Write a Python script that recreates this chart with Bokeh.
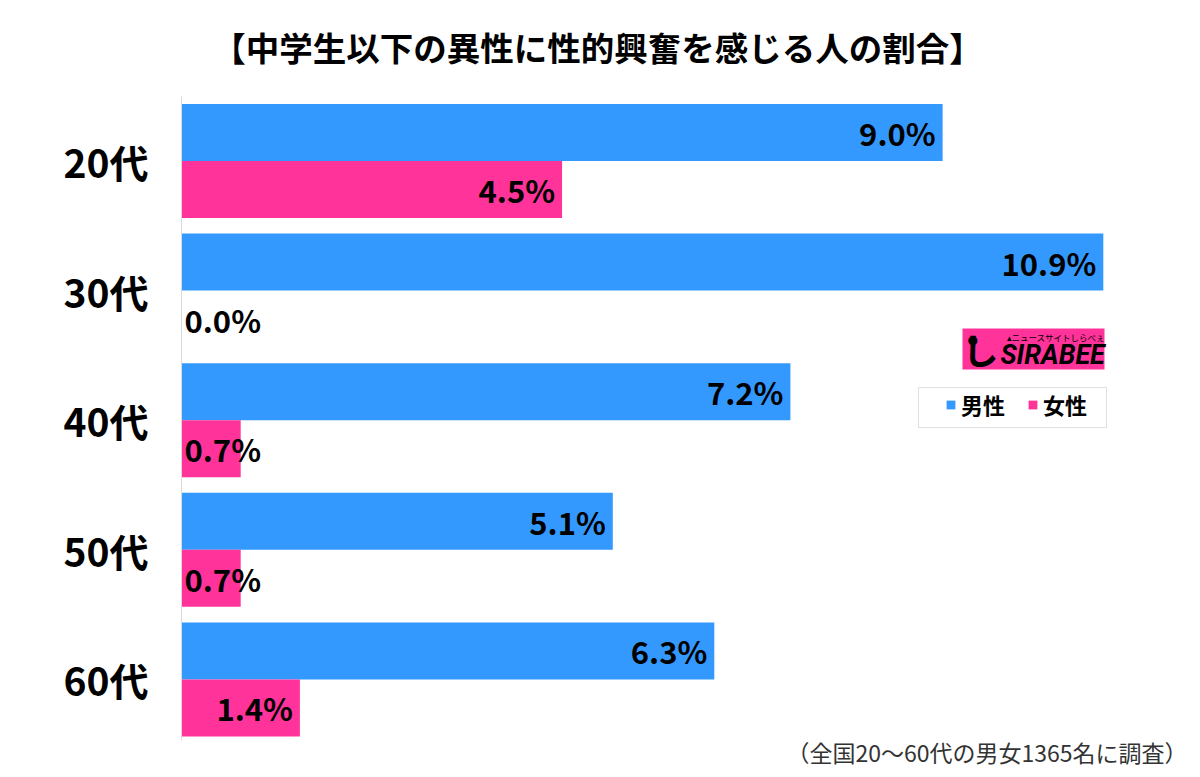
from bokeh.plotting import figure
from bokeh.models import (Range1d, FixedTicker, Label, Legend, LegendItem, ColumnDataSource,
                          BoxAnnotation)
from bokeh.embed import file_html
from bokeh.resources import INLINE

categories = ["20代", "30代", "40代", "50代", "60代"]
male = [9.0, 10.9, 7.2, 5.1, 6.3]
female = [4.5, 0.0, 0.7, 0.7, 1.4]
series_names = ["男性", "女性"]
title_text = "【中学生以下の異性に性的興奮を感じる人の割合】"
note_text = "（全国20～60代の男女1365名に調査）"

BLUE = "#3399ff"
PINK = "#ff3399"
JP = "Noto Sans CJK JP"

n = len(categories)
centers = [n - i for i in range(n)]
bh = 0.44

W, H = 1192, 769
LEFT = 181
FW = W - LEFT - 7
PX = 129.6  # pixels per category unit
y_top_axis, y_bot_axis = 5.4977, 0.5287

p = figure(width=W, height=H, output_backend="svg", toolbar_location=None,
           x_range=Range1d(0, FW / 84.57),
           y_range=Range1d(y_bot_axis - 29 / PX, y_top_axis + 96 / PX),
           min_border_left=LEFT, min_border_right=7, min_border_top=0, min_border_bottom=0)
p.outline_line_color = None
p.grid.visible = False
p.xaxis.visible = False


def sx(px):
    return px - LEFT


def sy(py):
    return H - py


ms = ColumnDataSource(dict(y=[c + bh / 2 for c in centers], v=male))
fs = ColumnDataSource(dict(y=[c - bh / 2 for c in centers], v=female))
rm = p.hbar(y="y", left=0, right="v", height=bh, source=ms, fill_color=BLUE, line_color=None)
rf = p.hbar(y="y", left=0, right="v", height=bh, source=fs, fill_color=PINK, line_color=None)

ax = p.yaxis[0]
ax.bounds = (y_bot_axis, y_top_axis)
ax.ticker = FixedTicker(ticks=centers)
ax.major_label_overrides = {c: cat for c, cat in zip(centers, categories)}
ax.major_tick_line_color = None
ax.minor_tick_line_color = None
ax.axis_line_color = "#d9d9d9"
ax.major_label_text_font = JP
ax.major_label_text_font_style = "bold"
ax.major_label_text_font_size = "39px"
ax.major_label_text_color = "black"
ax.major_label_standoff = 27


def add_labels(vals, ys):
    xs, aligns, offs, txt = [], [], [], []
    for v in vals:
        small = v < 1.0
        xs.append(0 if small else v)
        aligns.append("left" if small else "right")
        offs.append(3 if small else -7)
        txt.append(f"{v:.1f}%")
    src = ColumnDataSource(dict(x=xs, y=ys, t=txt, a=aligns, o=offs))
    p.text(x="x", y="y", text="t", text_align="a", x_offset="o", source=src,
           text_baseline="middle", text_font_size="31px", text_font_style="bold",
           text_color="black", text_font={"value": JP})


add_labels(male, [c + bh / 2 for c in centers])
add_labels(female, [c - bh / 2 for c in centers])

# legend frame
p.add_layout(BoxAnnotation(left=sx(918), right=sx(1106), bottom=sy(427), top=sy(387),
                           left_units="screen", right_units="screen",
                           bottom_units="screen", top_units="screen",
                           fill_color=None, line_color="#999999", line_width=1))
legend = Legend(items=[LegendItem(label=series_names[0], renderers=[rm]),
                       LegendItem(label=series_names[1], renderers=[rf])],
                orientation="horizontal", location=(sx(945), sy(420)),
                glyph_width=11, glyph_height=11,
                label_text_font=JP, label_text_font_style="bold", label_text_font_size="22px",
                label_text_color="black",
                border_line_color=None, background_fill_alpha=0,
                padding=0, spacing=22, label_standoff=5, margin=0)
p.add_layout(legend)

# title
p.add_layout(Label(x=sx(597), y=sy(46), x_units="screen", y_units="screen", text=title_text,
                   text_align="center", text_baseline="middle", text_font=JP,
                   text_font_style="bold", text_font_size="33.5px", text_color="black"))
# footnote
p.add_layout(Label(x=sx(1187), y=sy(751), x_units="screen", y_units="screen", text=note_text,
                   text_align="right", text_baseline="middle", text_font=JP,
                   text_font_size="23px", text_color="#333333"))

# logo
p.add_layout(BoxAnnotation(left=sx(962), right=sx(1104), bottom=sy(369), top=sy(328),
                           left_units="screen", right_units="screen",
                           bottom_units="screen", top_units="screen",
                           fill_color=PINK, fill_alpha=1, line_color=None))
p.add_layout(Label(x=sx(1000), y=sy(370), x_units="screen", y_units="screen", text="SIRABEE",
                   text_align="left", text_baseline="bottom", text_font="Roboto",
                   text_font_style="bold italic", text_font_size="27px", text_color="black"))
p.add_layout(Label(x=sx(962), y=sy(374), x_units="screen", y_units="screen", text="し",
                   text_align="left", text_baseline="bottom", text_font=JP,
                   text_font_style="bold", text_font_size="36px", text_color="black"))
p.add_layout(Label(x=sx(967), y=sy(346), x_units="screen", y_units="screen", text="●",
                   text_align="left", text_baseline="bottom", text_font="DejaVu Sans",
                   text_font_size="12px", text_color="black"))
p.add_layout(Label(x=sx(1006), y=sy(342), x_units="screen", y_units="screen", text="▴ニュースサイトしらべぇ",
                   text_align="left", text_baseline="bottom", text_font=JP,
                   text_font_size="8.5px", text_color="black"))

open("out.html", "w").write(file_html(p, INLINE))
